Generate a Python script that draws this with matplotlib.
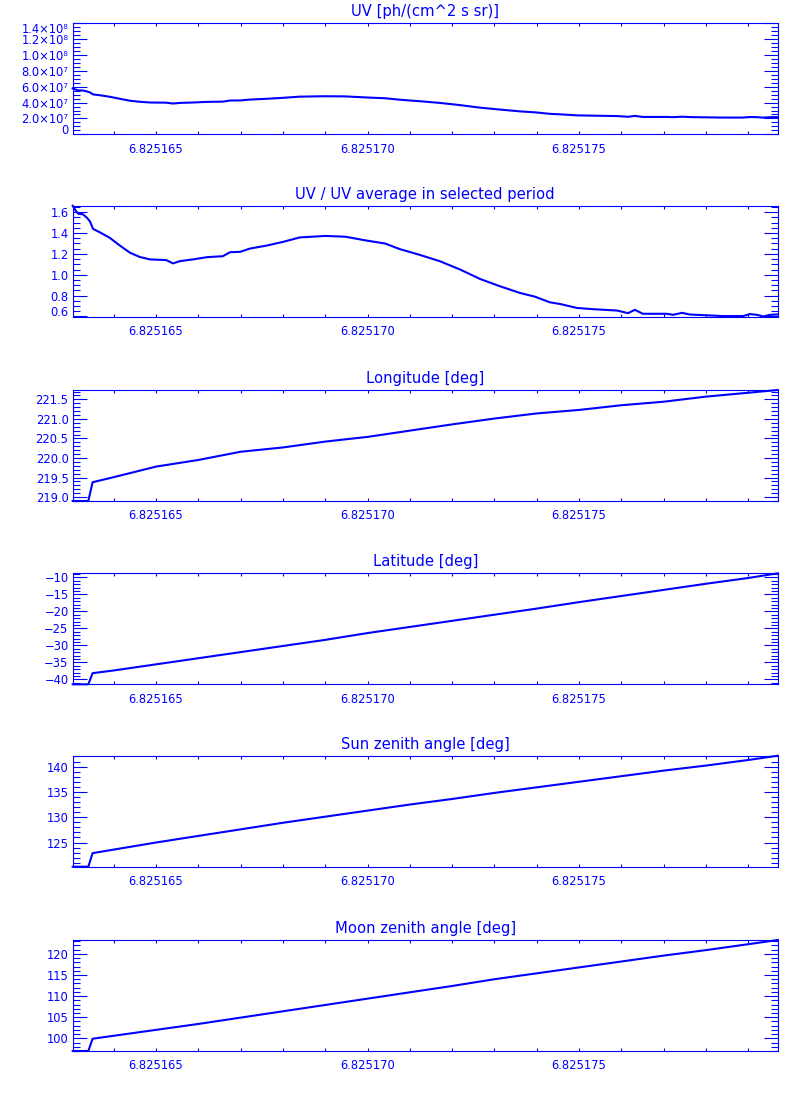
import matplotlib
matplotlib.use('Agg')
import matplotlib.pyplot as plt
from matplotlib import ticker

BLUE = '#0000ff'

# time axis of the UV samples
t_uv = [6.82516303, 6.82516309, 6.82516316, 6.82516327, 6.82516337, 6.82516344,
        6.82516351, 6.82516368, 6.82516391, 6.82516408, 6.82516422, 6.82516439,
        6.82516462, 6.82516486, 6.82516524, 6.82516540, 6.82516557, 6.82516587,
        6.82516621, 6.82516658, 6.82516675, 6.82516699, 6.82516722, 6.82516762,
        6.82516800, 6.82516840, 6.82516900, 6.82516947, 6.82516999, 6.82517041,
        6.82517077, 6.82517124, 6.82517171, 6.82517219, 6.82517266, 6.82517313,
        6.82517361, 6.82517396, 6.82517431, 6.82517455, 6.82517495, 6.82517533,
        6.82517590, 6.82517616, 6.82517632, 6.82517651, 6.82517708, 6.82517722,
        6.82517744, 6.82517762, 6.82517840, 6.82517888, 6.82517904, 6.82517921,
        6.82517935, 6.82517952, 6.82517970]

uv = [5.80e7, 5.66e7, 5.54e7, 5.52e7, 5.40e7, 5.28e7, 5.03e7, 4.92e7, 4.73e7, 4.55e7,
      4.40e7, 4.23e7, 4.10e7, 4.01e7, 3.99e7, 3.88e7, 3.96e7, 4.01e7, 4.09e7, 4.12e7,
      4.26e7, 4.27e7, 4.38e7, 4.48e7, 4.60e7, 4.75e7, 4.80e7, 4.78e7, 4.64e7, 4.55e7,
      4.36e7, 4.17e7, 3.96e7, 3.68e7, 3.36e7, 3.12e7, 2.89e7, 2.77e7, 2.58e7, 2.52e7,
      2.39e7, 2.35e7, 2.30e7, 2.21e7, 2.32e7, 2.19e7, 2.19e7, 2.16e7, 2.22e7, 2.17e7,
      2.11e7, 2.11e7, 2.18e7, 2.16e7, 2.10e7, 2.16e7, 2.17e7]

uv_ratio = [1.662, 1.620, 1.585, 1.580, 1.545, 1.510, 1.440, 1.405, 1.353, 1.300,
            1.258, 1.210, 1.170, 1.147, 1.141, 1.109, 1.131, 1.147, 1.169, 1.178,
            1.216, 1.220, 1.251, 1.280, 1.315, 1.358, 1.372, 1.365, 1.327, 1.300,
            1.245, 1.190, 1.130, 1.050, 0.960, 0.890, 0.825, 0.790, 0.736, 0.720,
            0.682, 0.670, 0.657, 0.632, 0.664, 0.626, 0.626, 0.616, 0.635, 0.619,
            0.604, 0.604, 0.623, 0.616, 0.600, 0.616, 0.620]

# time axis of the geometry samples
t_geo = [6.82516303, 6.8251634, 6.8251635, 6.825164, 6.825165, 6.825166, 6.825167,
         6.825168, 6.825169, 6.825170, 6.825171, 6.825172, 6.825173, 6.825174,
         6.825175, 6.825176, 6.825177, 6.825178, 6.825179, 6.8251797]

lon = [218.90, 218.90, 219.38, 219.51, 219.78, 219.95, 220.16, 220.27, 220.42, 220.54,
       220.70, 220.86, 221.01, 221.14, 221.23, 221.35, 221.44, 221.57, 221.67, 221.74]

lat = [-41.47, -41.47, -38.2, -37.4, -35.6, -33.8, -32.0, -30.2, -28.4, -26.4,
       -24.6, -22.8, -21.0, -19.2, -17.3, -15.5, -13.7, -11.9, -10.2, -8.82]

sun_za = [120.22, 120.22, 122.9, 123.6, 125.0, 126.3, 127.6, 128.9, 130.1, 131.3,
          132.5, 133.6, 134.8, 135.9, 137.0, 138.1, 139.2, 140.2, 141.3, 142.15]

moon_za = [96.99, 96.99, 99.9, 100.6, 102.0, 103.4, 104.9, 106.4, 107.9, 109.4,
           110.9, 112.4, 114.0, 115.4, 116.8, 118.2, 119.6, 120.9, 122.3, 123.3]

x_major = [6.825165, 6.825170, 6.825175]

titles = ['UV [ph/(cm^2 s sr)]', 'UV / UV average in selected period',
          'Longitude [deg]', 'Latitude [deg]', 'Sun zenith angle [deg]',
          'Moon zenith angle [deg]']

SUP = str.maketrans('0123456789', '⁰¹²³⁴⁵⁶⁷⁸⁹')


def sci_fmt(v, pos):
    if abs(v) < 1:
        return '0'
    e = 0
    m = v
    while abs(m) >= 10:
        m /= 10
        e += 1
    return '%.1f×10%s' % (m, str(e).translate(SUP))


def int_fmt(v, pos):
    return ('%.0f' % v).replace('-', '\u2212')


def one_fmt(v, pos):
    return '%.1f' % v


panels = [
    (t_uv, uv, (0, 1.4e8), 2e7, 4, sci_fmt),
    (t_uv, uv_ratio, (0.598, 1.662), 0.2, 4, one_fmt),
    (t_geo, lon, (218.90, 221.74), 0.5, 5, one_fmt),
    (t_geo, lat, (-41.47, -8.82), 5, 5, int_fmt),
    (t_geo, sun_za, (120.22, 142.15), 5, 5, int_fmt),
    (t_geo, moon_za, (96.99, 123.3), 5, 5, int_fmt),
]

fig = plt.figure(figsize=(8, 11), dpi=100)
tops = [23.3, 205.7, 390, 573.3, 755.7, 940]
left = 72.7 / 800
width = (777.8 - 72.7) / 800
h = 111 / 1100

for i, (t, y, ylim, step, nminor, fmt) in enumerate(panels):
    ax = fig.add_axes([left, 1 - (tops[i] + 111) / 1100, width, h])
    ax.plot(t, y, color=BLUE, lw=1.5, clip_on=False)
    ax.set_xlim(t_geo[0], t_geo[-1])
    ax.set_ylim(*ylim)
    ax.set_title(titles[i], color=BLUE, fontsize=10.6, pad=5)

    ax.xaxis.set_major_locator(ticker.FixedLocator(x_major))
    ax.xaxis.set_major_formatter(ticker.FormatStrFormatter('%.6f'))
    ax.xaxis.set_minor_locator(ticker.AutoMinorLocator(5))
    ax.yaxis.set_major_locator(ticker.MultipleLocator(step))
    ax.yaxis.set_major_formatter(ticker.FuncFormatter(fmt))
    ax.yaxis.set_minor_locator(ticker.AutoMinorLocator(nminor))

    ax.tick_params(axis='both', which='both', direction='in', top=True, right=True,
                   color=BLUE, labelcolor=BLUE, width=0.8, labelsize=8.3)
    ax.tick_params(axis='y', which='major', length=10, pad=3)
    ax.tick_params(axis='y', which='minor', length=5)
    ax.tick_params(axis='x', which='major', length=2.5, pad=6)
    ax.tick_params(axis='x', which='minor', length=2.2)
    for s in ax.spines.values():
        s.set_color(BLUE)
        s.set_linewidth(0.8)

    # keep end labels inside the frame, as the original does
    locs = ax.yaxis.get_majorticklocs()
    ticks = ax.yaxis.get_major_ticks(len(locs))
    span = ylim[1] - ylim[0]
    for loc, tk in zip(locs, ticks):
        if abs(loc - ylim[0]) < 0.01 * span:
            tk.label1.set_va('baseline')
        elif abs(loc - ylim[1]) < 0.01 * span:
            tk.label1.set_va('top')

fig.savefig('out.png', dpi=100)
